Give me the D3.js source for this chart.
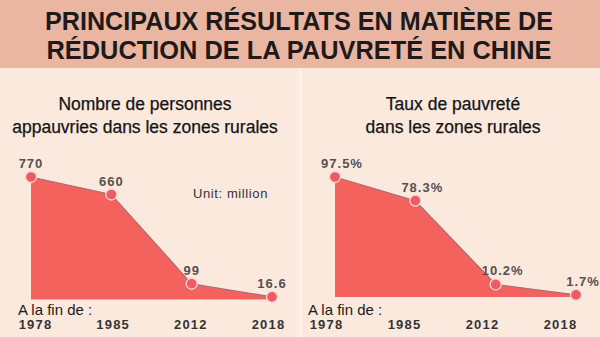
<!DOCTYPE html>
<html>
<head>
<meta charset="utf-8">
<script src="https://cdn.jsdelivr.net/npm/d3@7"></script>
<style>
html,body{margin:0;padding:0;background:#fce9de;}
svg{display:block;}
</style>
</head>
<body>
<script>
const years = ["1978", "1985", "2012", "2018"];
const poorPeople = [770, 660, 99, 16.6];
const poorPeopleLabels = ["770", "660", "99", "16.6"];
const poorRate = [97.5, 78.3, 10.2, 1.7];
const poorRateLabels = ["97.5%", "78.3%", "10.2%", "1.7%"];
const mainTitle = ["PRINCIPAUX RÉSULTATS EN MATIÈRE DE", "RÉDUCTION DE LA PAUVRETÉ EN CHINE"];
const leftTitle = ["Nombre de personnes", "appauvries dans les zones rurales"];
const rightTitle = ["Taux de pauvreté", "dans les zones rurales"];
const axisPrefix = "A la fin de :";
const unitLabel = "Unit: million";

const W = 600, H = 337;
const svg = d3.select("body").append("svg").attr("width", W).attr("height", H);

// backgrounds
svg.append("rect").attr("x", 0).attr("y", 0).attr("width", W).attr("height", H).attr("fill", "#fce9de");
svg.append("rect").attr("x", 299).attr("y", 68).attr("width", 3).attr("height", H - 68).attr("fill", "#fef1ea");
svg.append("rect").attr("x", 0).attr("y", 0).attr("width", W).attr("height", 68).attr("fill", "#eab6a2");

// main title
svg.selectAll("text.mt").data(mainTitle).join("text")
  .attr("class", "mt")
  .attr("x", 299).attr("y", (d, i) => 29.5 + i * 29.5)
  .attr("text-anchor", "middle")
  .attr("textLength", (d, i) => i === 0 ? 508 : 505)
  .attr("lengthAdjust", "spacingAndGlyphs")
  .style("font-family", "'Liberation Sans', Arial, sans-serif")
  .style("font-weight", "bold").style("font-size", "26px").style("fill", "#1e1a1a")
  .text(d => d);

function panel(cfg) {
  const g = svg.append("g");
  const x = d3.scalePoint().domain(years).range(cfg.xRange);
  const y = d3.scaleLinear().domain([0, cfg.max]).range([cfg.base, 177]);
  const xl = d3.scalePoint().domain(years).range(cfg.labelRange);
  const data = years.map((yr, i) => ({yr, v: cfg.values[i], lab: cfg.labels[i]}));

  // subtitle
  g.selectAll("text.st").data(cfg.title).join("text")
    .attr("x", cfg.titleX).attr("y", (d, i) => 110 + i * 23)
    .attr("text-anchor", "middle")
    .style("font-family", "'Liberation Sans', Arial, sans-serif")
    .style("font-size", "17.5px").style("fill", "#141414")
    .style("stroke", "#141414").style("stroke-width", 0.25)
    .text(d => d);

  const area = d3.area().x(d => x(d.yr)).y0(y(0)).y1(d => y(d.v));
  g.append("path").datum(data).attr("d", area).attr("fill", "#f4625e");
  const line = d3.line().x(d => x(d.yr)).y(d => y(d.v));
  g.append("path").datum(data).attr("d", line).attr("fill", "none")
    .attr("stroke", "#9c6f76").attr("stroke-width", 1.1);

  g.selectAll("circle").data(data).join("circle")
    .attr("cx", d => x(d.yr)).attr("cy", d => y(d.v)).attr("r", 5.5)
    .attr("fill", "#ee5a66").attr("stroke", "#fbd6d0").attr("stroke-width", 1.3);

  g.selectAll("text.val").data(data).join("text")
    .attr("x", d => x(d.yr) + cfg.valDx).attr("y", d => y(d.v) - 9)
    .attr("text-anchor", "middle")
    .style("font-family", "'Liberation Sans', Arial, sans-serif")
    .style("font-weight", "bold").style("font-size", "13px")
    .style("letter-spacing", "1px").style("fill", "#555050")
    .text(d => d.lab);

  // axis labels
  const ax = g.append("g").attr("transform", "translate(0,329)")
    .call(d3.axisBottom(xl).tickSize(0).tickPadding(0));
  ax.select(".domain").remove();
  ax.selectAll("text")
    .attr("dy", "0px")
    .style("font-family", "'Liberation Sans', Arial, sans-serif")
    .style("font-weight", "bold").style("font-size", "13px")
    .style("letter-spacing", "1.2px").style("fill", "#333");

  g.append("text").attr("x", cfg.prefixX).attr("y", 315)
    .style("font-family", "'Liberation Sans', Arial, sans-serif")
    .style("font-size", "15px").style("fill", "#1a1a1a")
    .text(axisPrefix);
  return g;
}

const left = panel({xRange: [31, 272], labelRange: [35, 268], base: 299.5, max: 770,
  values: poorPeople, labels: poorPeopleLabels, title: leftTitle, titleX: 145, valDx: 0, prefixX: 18});
left.append("text").attr("x", 193).attr("y", 198)
  .style("font-family", "'Liberation Sans', Arial, sans-serif")
  .style("font-size", "13px").style("letter-spacing", "0.6px").style("fill", "#333")
  .text(unitLabel);

panel({xRange: [335, 576], labelRange: [326, 560], base: 297, max: 97.5,
  values: poorRate, labels: poorRateLabels, title: rightTitle, titleX: 453, valDx: 7, prefixX: 308});
</script>
</body>
</html>
